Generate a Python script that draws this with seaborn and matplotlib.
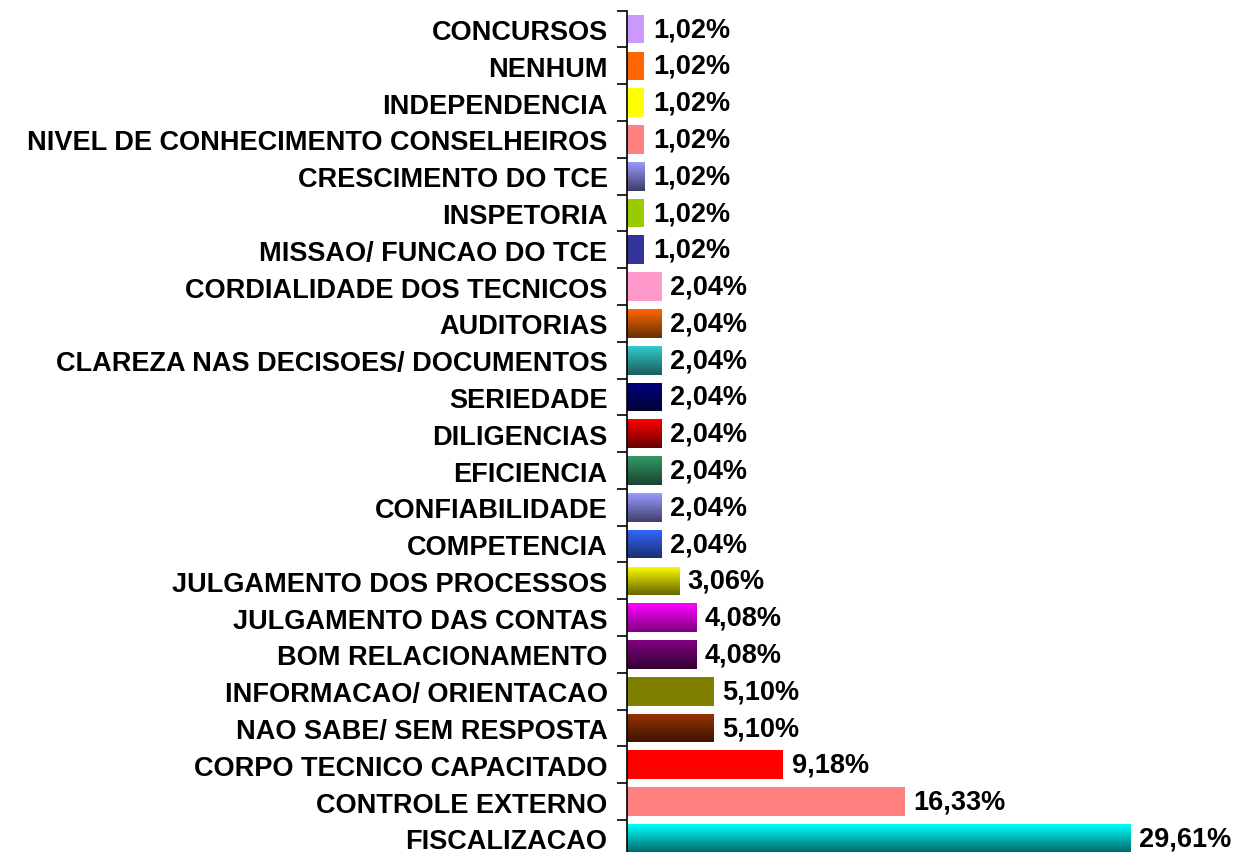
import numpy as np
import pandas as pd
import matplotlib
matplotlib.use("Agg")
import matplotlib.pyplot as plt
import matplotlib.colors as mcolors
import seaborn as sns

categorias = [
    "CONCURSOS", "NENHUM", "INDEPENDENCIA", "NIVEL DE CONHECIMENTO CONSELHEIROS",
    "CRESCIMENTO DO TCE", "INSPETORIA", "MISSAO/ FUNCAO DO TCE",
    "CORDIALIDADE DOS TECNICOS", "AUDITORIAS", "CLAREZA NAS DECISOES/ DOCUMENTOS",
    "SERIEDADE", "DILIGENCIAS", "EFICIENCIA", "CONFIABILIDADE", "COMPETENCIA",
    "JULGAMENTO DOS PROCESSOS", "JULGAMENTO DAS CONTAS", "BOM RELACIONAMENTO",
    "INFORMACAO/ ORIENTACAO", "NAO SABE/ SEM RESPOSTA", "CORPO TECNICO CAPACITADO",
    "CONTROLE EXTERNO", "FISCALIZACAO",
]
percentuais = [
    1.02, 1.02, 1.02, 1.02, 1.02, 1.02, 1.02,
    2.04, 2.04, 2.04, 2.04, 2.04, 2.04, 2.04, 2.04,
    3.06, 4.08, 4.08, 5.10, 5.10, 9.18, 16.33, 29.61,
]

# cor de cima e cor de baixo (degradê vertical, igual quando a barra é lisa)
cores_topo = [
    "#cc99ff", "#ff6600", "#ffff00", "#ff8080", "#9999ff", "#99cc00", "#333399",
    "#ff99cc", "#ff6600", "#33cccc", "#000080", "#ff0000", "#339966", "#9999ff",
    "#3366ff", "#ffff00", "#ff00ff", "#800080", "#808000", "#993300", "#ff0000",
    "#ff8080", "#00ffff",
]
cores_base = [
    "#cc99ff", "#ff6600", "#ffff00", "#ff8080", "#3d3d66", "#99cc00", "#333399",
    "#ff99cc", "#663000", "#1a5c5c", "#000033", "#660000", "#1a4430", "#40406a",
    "#1a2f70", "#666600", "#800080", "#330033", "#808000", "#3d1500", "#ff0000",
    "#ff8080", "#006666",
]

df = pd.DataFrame({"categoria": categorias, "valor": percentuais})

sns.set_style("white", {"text.color": "black", "ytick.color": "black",
                        "axes.edgecolor": "black", "ytick.left": True})
plt.rcParams["font.family"] = ["Liberation Sans", "DejaVu Sans"]

fig = plt.figure(figsize=(12.38, 8.53), dpi=100)
ax = fig.add_axes([0.5065, -0.0056, 0.412, 0.9919])

sns.barplot(data=df, x="valor", y="categoria", orient="h", width=0.78,
            palette=cores_topo, hue="categoria", legend=False, ax=ax,
            edgecolor="none", saturation=1)

# degradês
for patch, c1, c2 in zip(ax.patches, cores_topo, cores_base):
    if c1 == c2:
        continue
    x0, y0 = patch.get_x(), patch.get_y()
    w, h = patch.get_width(), patch.get_height()
    cmap = mcolors.LinearSegmentedColormap.from_list("g", [c1, c2])
    grad = np.linspace(0, 1, 64).reshape(-1, 1)
    im = ax.imshow(grad, cmap=cmap, aspect="auto", interpolation="bilinear",
                   extent=(x0, x0 + w, y0 + h, y0), origin="upper", zorder=patch.get_zorder() + 0.1)
    im.set_clip_path(patch)

ax.set_xlim(0, 30)
ax.set_ylim(len(categorias) - 0.5, -0.5)

for i, v in enumerate(percentuais):
    ax.text(v + 0.5, i, f"{v:.2f}%".replace(".", ","), va="center", ha="left",
            fontsize=19.5, fontweight="bold", color="black", clip_on=False)

ax.set_xlabel("")
ax.set_ylabel("")
ax.set_xticks([])
ax.tick_params(axis="y", which="major", left=False, length=0, pad=14, labelsize=19.5,
               labelcolor="black")
for lab in ax.get_yticklabels():
    lab.set_fontweight("bold")
ax.set_yticks(np.arange(-0.5, len(categorias), 1), minor=True)
ax.tick_params(axis="y", which="minor", left=True, length=7, width=1.2,
               direction="out", color="black")

for s in ["top", "right", "bottom"]:
    ax.spines[s].set_visible(False)
ax.spines["left"].set_color("black")
ax.spines["left"].set_linewidth(1.2)

fig.savefig("out.png", dpi=100)
